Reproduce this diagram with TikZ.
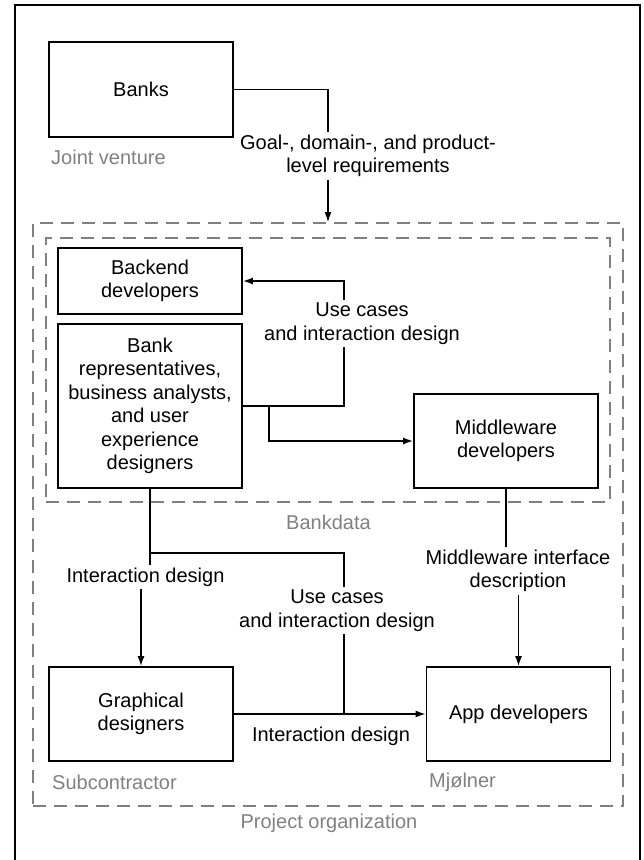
\documentclass[tikz,border=0pt]{standalone}
\usepackage{fontspec}
\setmainfont{Liberation Sans}
\usetikzlibrary{arrows.meta,positioning,calc}
\definecolor{groupgray}{RGB}{128,128,128}

\begin{document}
\begin{tikzpicture}[x=1pt,y=-1pt,
    box/.style={draw, line width=1.8pt, minimum width=184pt, align=center, inner sep=0pt, font=\fontsize{20}{23.5}\selectfont},
    group/.style={draw=groupgray, line width=1.6pt, dash pattern=on 13pt off 8pt, inner sep=0pt},
    flow/.style={line width=1.5pt, -{Latex[length=10pt,width=7pt]}},
    lbl/.style={fill=white, align=center, inner sep=3pt, font=\fontsize{20}{23.5}\selectfont},
    grp/.style={text=groupgray, inner sep=0pt, font=\fontsize{20}{23.5}\selectfont}]

                \useasboundingbox (0,0) rectangle (644,860);
                \draw[line width=1.8pt] (15,5) rectangle (640,880);

                % groups
                \node[group, minimum width=590pt, minimum height=583pt] (proj) at (328,514.5) {};
                \node[group, minimum width=564pt, minimum height=264pt] (bankdata) at (328,370) {};

                % actors
                \node[box, minimum height=95pt] (banks) at (141,89.5) {Banks};
                \node[box, minimum height=66pt] (backend) at (150,281) {Backend\\developers};
                \node[box, minimum height=164pt] (rep) at (150,406) {Bank\\representatives,\\business analysts,\\and user\\experience\\designers};
                \node[box, minimum height=94pt] (middleware) at (506,441) {Middleware\\developers};
                \node[box, minimum height=94pt] (graphical) at (141,714) {Graphical\\designers};
                \node[box, minimum height=94pt] (app) at (518.5,714) {App developers};

                \coordinate (goal) at (368,156);
                \coordinate (ucA) at (362,323.5);
                \coordinate (ucB) at (337,610.5);
                \coordinate (idA) at (145.5,577);
                \coordinate (mwd) at (518,571);
                \coordinate (ucx) at (344,0);
                \coordinate (fork) at ($(rep.south)+(0,64)$);
                \coordinate (join) at (ucx |- app.west);

                \draw[flow] (banks.east) -| (proj.north);
                \draw[flow] (rep.east) -| (ucx |- backend.east) -- (backend.east);
                \draw[flow] (rep.east) -- ++(26,0) |- (middleware.west);
                \draw[flow] (rep.south) |- (idA) -| (graphical.north);
                \draw[line width=1.5pt] (fork) -| (join);
                \draw[flow] (graphical.east) -- (app.west);
                \draw[flow] (middleware.south) |- (mwd) -| (app.north);

                % connector labels
                \node[lbl] (goalL) at (goal) {Goal-, domain-, and product-\\level requirements};
                \node[lbl] (ucAL) at (ucA) {Use cases\\and interaction design};
                \node[lbl] (idAL) at (idA) {Interaction design};
                \node[lbl] (ucBL) at (ucB) {Use cases\\and interaction design};
                \node[lbl] (mwdL) at (mwd) {Middleware interface\\description};
                \node[lbl, fill=none] (idBL) at (331,736) {Interaction design};

                % group names
                \node[grp, anchor=west] (jvL) at (51,157) {Joint venture};
                \node[grp] (bankdataL) at (328.5,522) {Bankdata};
                \node[grp, anchor=west] (subL) at (52,782) {Subcontractor};
                \node[grp, anchor=west] (mjL) at (429,782) {Mjølner};
                \node[grp] (projL) at (329,823) {Project organization};

        \end{tikzpicture}
\end{document}
